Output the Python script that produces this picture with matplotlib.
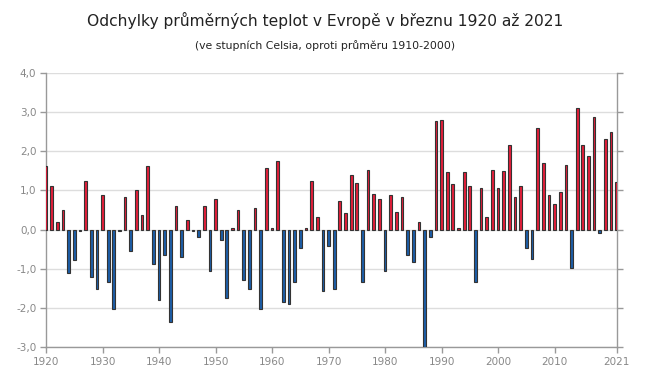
import numpy as np
import matplotlib.pyplot as plt

years = list(range(1920, 2022))
odchylky = [
    1.61, 1.10, 0.20, 0.51, -1.12, -0.77, -0.05, 1.23, -1.20, -1.51,
    0.87, -1.35, -2.04, -0.05, 0.84, -0.56, 1.02, 0.38, 1.63, -0.87,
    -1.81, -0.66, -2.35, 0.59, -0.71, 0.24, -0.03, -0.20, 0.61, -1.05,
    0.77, -0.28, -1.74, 0.05, 0.49, -1.30, -1.51, 0.56, -2.02, 1.58,
    0.05, 1.76, -1.86, -1.91, -1.35, -0.46, 0.03, 1.25, 0.33, -1.56,
    -0.42, -1.51, 0.74, 0.41, 1.38, 1.20, -1.35, 1.53, 0.92, 0.77,
    -1.07, 0.87, 0.46, 0.84, -0.66, -0.84, 0.18, -2.99, -0.18, 2.78,
    2.80, 1.46, 1.17, 0.03, 1.46, 1.10, -1.33, 1.05, 0.33, 1.53,
    1.05, 1.50, 2.17, 0.82, 1.10, -0.48, -0.74, 2.60, 1.71, 0.87,
    0.66, 0.97, 1.66, -0.99, 3.11, 2.17, 1.89, 2.88, -0.10, 2.32,
    2.50, 1.22,
]
yticks = [-3, -2, -1, 0, 1, 2, 3, 4]
xticks = [1920, 1930, 1940, 1950, 1960, 1970, 1980, 1990, 2000, 2010, 2021]

fig = plt.figure(figsize=(6.5, 3.77), dpi=100)
ax = fig.add_axes([0.0708, 0.0796, 0.878, 0.727])

barvy = ['#e41e3a' if v >= 0 else '#1c5ea8' for v in odchylky]
ax.bar(years, odchylky, width=0.48, color=barvy, edgecolor='#333333', linewidth=0.8, zorder=3)

ax.set_xlim(1920, 2021)
ax.set_ylim(-3, 4)
ax.set_yticks(yticks)
ax.set_yticklabels([f'{t:.1f}'.replace('.', ',') for t in yticks])
ax.set_xticks(xticks)
ax.yaxis.grid(True, color='#dddddd', linewidth=1, zorder=0)
ax.set_axisbelow(True)

for s in ['left', 'right', 'bottom']:
    ax.spines[s].set_color('#999999')
    ax.spines[s].set_linewidth(1)
ax.spines['top'].set_visible(False)
ax.tick_params(axis='both', colors='#999999', labelcolor='#888888', labelsize=7.5, length=4, width=1)
ax.tick_params(axis='y', right=True, pad=3)

fig.text(0.5, 0.945, 'Odchylky průměrných teplot v Evropě v březnu 1920 až 2021',
         ha='center', va='center', fontsize=11.2, color='#222222')
fig.text(0.5, 0.88, '(ve stupních Celsia, oproti průměru 1910-2000)',
         ha='center', va='center', fontsize=7.8, color='#222222')

fig.savefig('out.png', dpi=100)
